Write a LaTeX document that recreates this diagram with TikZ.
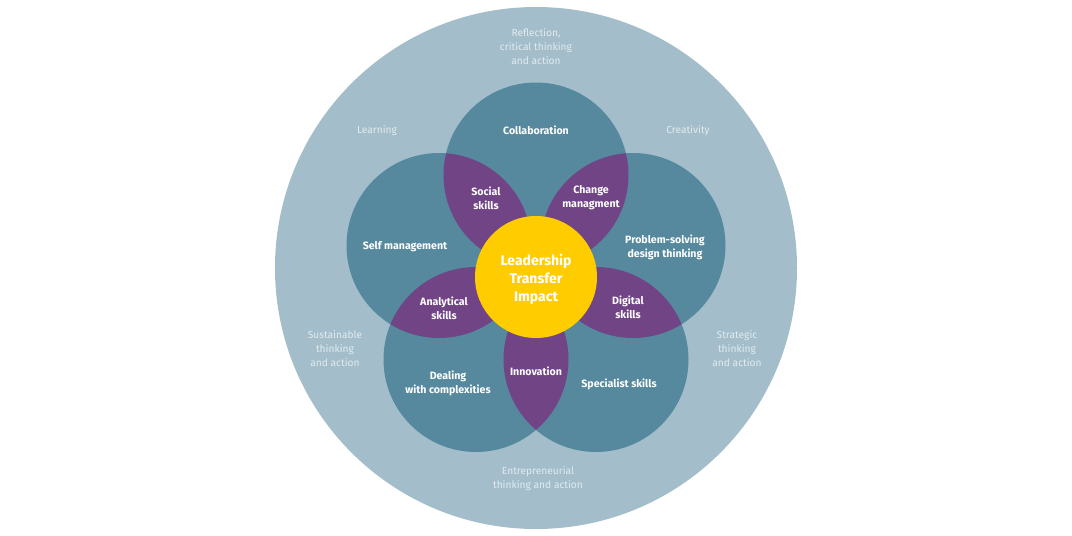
\documentclass[tikz,border=0pt]{standalone}
\usepackage{fontspec}
\setmainfont{Fira Sans}
\definecolor{outerc}{HTML}{A3BECA}
\definecolor{petalc}{HTML}{56899E}
\definecolor{lensc}{HTML}{714486}
\definecolor{corec}{HTML}{FFCC00}
\definecolor{softtext}{HTML}{E2EBEF}
\tikzset{
  outertxt/.style={text=softtext, align=center, font=\fontsize{10.2}{14}\selectfont, inner sep=0pt},
  petaltxt/.style={text=white, align=center, font=\fontsize{10.6}{14}\selectfont\bfseries, inner sep=0pt},
  coretxt/.style={text=white, align=center, font=\fontsize{14}{18}\selectfont\bfseries, inner sep=0pt}
}
\begin{document}
\begin{tikzpicture}[x=1pt,y=-1pt]
\useasboundingbox (0,0) rectangle (1072,536);
\fill[white] (0,0) rectangle (1072,536);
% coordinates
\coordinate (O) at (536,268);
\coordinate (C) at (536,277);
\coordinate (P1) at (536,175);
\coordinate (P2) at (633,245.5);
\coordinate (P3) at (596,359.5);
\coordinate (P4) at (476,359.5);
\coordinate (P5) at (439,245.5);
% outer ring
\fill[outerc] (O) circle[radius=261pt];
% petals
\foreach \p in {P1,P2,P3,P4,P5}{
  \fill[petalc] (\p) circle[radius=92.5pt];
}
% lenses
\foreach \a/\b in {P1/P2,P2/P3,P3/P4,P4/P5,P5/P1}{
  \begin{scope}
    \clip (\a) circle[radius=92.5pt];
    \fill[lensc] (\b) circle[radius=92.5pt];
  \end{scope}
}
% core
\fill[corec] (C) circle[radius=61pt];
% outer texts
\node[outertxt] (reflect) at (536,47) {Reflection,\\critical thinking\\and action};
\node[outertxt] (learn) at (377,131) {Learning};
\node[outertxt] (creat) at (688,131) {Creativity};
\node[outertxt] (sustain) at (335,349) {Sustainable\\thinking\\and action};
\node[outertxt] (strat) at (737,349) {Strategic\\thinking\\and action};
\node[outertxt] (entre) at (538,479) {Entrepreneurial\\thinking and action};
% petal texts
\node[petaltxt] (collab) at (536,130) {Collaboration};
\node[petaltxt] (selfm) at (405,247) {Self management};
\node[petaltxt] (probl) at (665,247) {Problem-solving\\design thinking};
\node[petaltxt] (deal) at (448,383) {Dealing\\with complexities};
\node[petaltxt] (spec) at (619,384) {Specialist skills};
% lens texts
\node[petaltxt] (social) at (486,198) {Social\\skills};
\node[petaltxt] (change) at (591,198) {Change\\managment};
\node[petaltxt] (digital) at (628,307) {Digital\\skills};
\node[petaltxt] (innov) at (536,371) {Innovation};
\node[petaltxt] (analyt) at (444,308) {Analytical\\skills};
% core text
\node[coretxt] (core) at (536,279) {Leadership\\Transfer\\Impact};
\end{tikzpicture}
\end{document}
